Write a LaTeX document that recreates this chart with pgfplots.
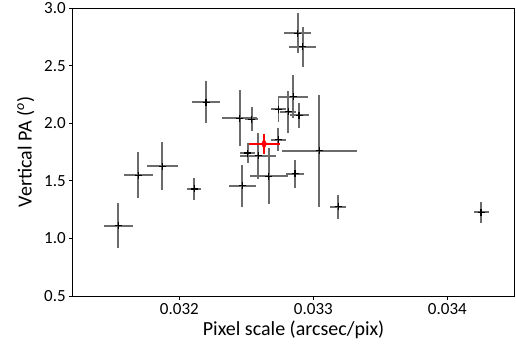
\documentclass[border=0pt]{standalone}
\usepackage{fontspec}
\setmainfont{Carlito}
\usepackage{pgfplots}
\pgfplotsset{compat=1.18}
\usepackage{pgfplotstable}
\usetikzlibrary{calc}
\pgfplotstableread{
x y ex ey
0.031545 1.111 0.000108 0.195
0.031694 1.547 0.000110 0.200
0.031873 1.625 0.000116 0.208
0.032110 1.429 0.000052 0.095
0.032199 2.183 0.000102 0.182
0.032451 2.044 0.000130 0.243
0.032540 2.036 0.000050 0.101
0.032470 1.458 0.000100 0.182
0.032510 1.741 0.000056 0.087
0.032590 1.717 0.000134 0.200
0.032666 1.540 0.000142 0.243
0.032737 1.856 0.000056 0.100
0.032740 2.122 0.000056 0.108
0.032813 2.099 0.000060 0.182
0.032851 2.231 0.000112 0.190
0.032893 2.068 0.000071 0.108
0.032863 1.562 0.000067 0.121
0.032884 2.781 0.000100 0.173
0.032921 2.665 0.000102 0.173
0.033043 1.761 0.000280 0.485
0.033187 1.273 0.000060 0.104
0.034251 1.226 0.000056 0.091
}\blackdata
\pgfplotstableread{
x y ex ey
0.032632 1.820 0.000116 0.087
}\reddata
\begin{document}
\begin{tikzpicture}
\begin{axis}[
  scale only axis, width=441.8bp, height=288bp,
  xmin=0.031204, xmax=0.034501, ymin=0.5, ymax=3.0,
  xtick={0.032,0.033,0.034}, ytick={0.5,1.0,1.5,2.0,2.5,3.0},
  scaled x ticks=false, scaled y ticks=false,
  xticklabel style={/pgf/number format/fixed, /pgf/number format/fixed zerofill, /pgf/number format/precision=3},
  yticklabel style={/pgf/number format/fixed, /pgf/number format/fixed zerofill, /pgf/number format/precision=1},
  /pgf/number format/assume math mode=true,
  tick align=outside, tick pos=left, major tick length=3.5bp,
  tick style={black, line width=0.8bp},
  axis line style={line width=0.8bp},
  ticklabel style={font=\fontsize{17bp}{19bp}\selectfont},
  label style={font=\fontsize{20bp}{23bp}\selectfont},
  xlabel={Pixel scale (arcsec/pix)},
  ylabel={Vertical PA (\textsuperscript{\itshape o})},
  ylabel shift=3bp,
  clip=false,
]
\addplot[only marks, mark=+, mark size=3.5bp, black, mark options={line width=1.1bp, solid},
  error bars/.cd, x dir=both, x explicit, y dir=both, y explicit, error mark=none,
  error bar style={line width=1.9bp, draw=black!58, solid}]
  table[x=x, y=y, x error=ex, y error=ey]{\blackdata};
\addplot[only marks, mark=diamond*, mark size=5bp, red, mark options={xscale=0.7, fill=red, draw=red, solid},
  error bars/.cd, x dir=both, x explicit, y dir=both, y explicit, error mark=none,
  error bar style={line width=2.2bp, draw=red, solid}]
  table[x=x, y=y, x error=ex, y error=ey]{\reddata};
\end{axis}
\pgfresetboundingbox
\path[use as bounding box] ($(current axis.south west)+(-72.7bp,-57bp)$) rectangle ($(current axis.north east)+(1.5bp,8bp)$);
\end{tikzpicture}
\end{document}
